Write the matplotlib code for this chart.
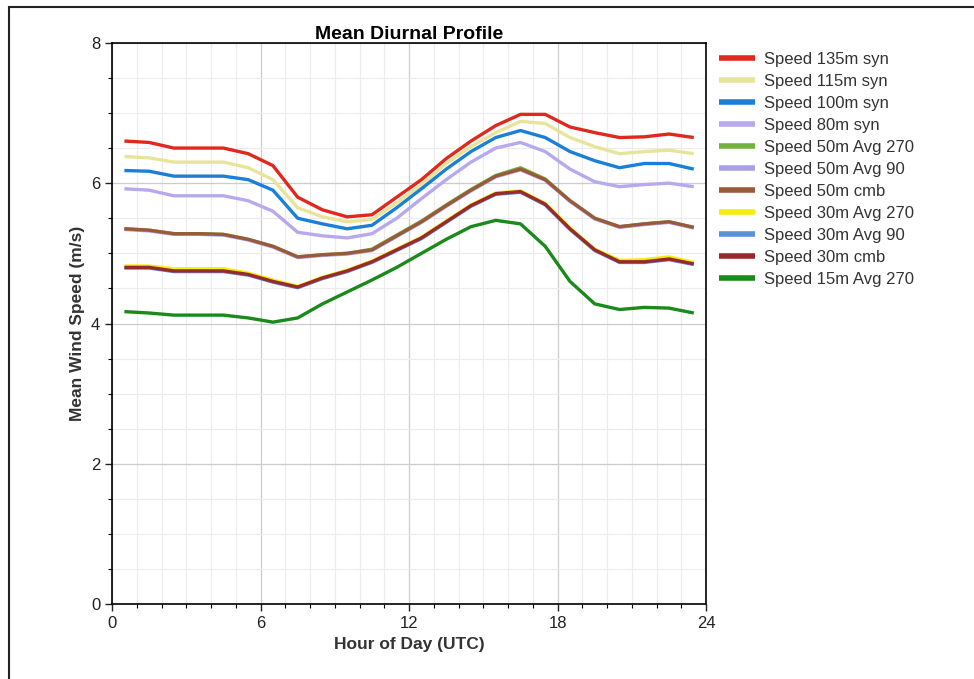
import matplotlib.pyplot as plt
from matplotlib.patches import Rectangle
from matplotlib.ticker import MultipleLocator

plt.rcParams['font.family'] = ['Liberation Sans', 'DejaVu Sans']

hours = [0.5, 1.5, 2.5, 3.5, 4.5, 5.5, 6.5, 7.5, 8.5, 9.5, 10.5, 11.5,
         12.5, 13.5, 14.5, 15.5, 16.5, 17.5, 18.5, 19.5, 20.5, 21.5, 22.5, 23.5]

speed_135_syn = [6.60, 6.58, 6.50, 6.50, 6.50, 6.42, 6.25, 5.80, 5.62, 5.52, 5.55, 5.80,
                 6.05, 6.35, 6.60, 6.82, 6.98, 6.98, 6.80, 6.72, 6.65, 6.66, 6.70, 6.65]
speed_115_syn = [6.38, 6.36, 6.30, 6.30, 6.30, 6.22, 6.05, 5.65, 5.52, 5.45, 5.48, 5.72,
                 5.98, 6.28, 6.52, 6.72, 6.88, 6.85, 6.65, 6.52, 6.42, 6.45, 6.47, 6.42]
speed_100_syn = [6.18, 6.17, 6.10, 6.10, 6.10, 6.05, 5.90, 5.50, 5.42, 5.35, 5.40, 5.65,
                 5.92, 6.20, 6.45, 6.65, 6.75, 6.65, 6.45, 6.32, 6.22, 6.28, 6.28, 6.20]
speed_80_syn = [5.92, 5.90, 5.82, 5.82, 5.82, 5.75, 5.60, 5.30, 5.25, 5.22, 5.28, 5.50,
                5.78, 6.05, 6.30, 6.50, 6.58, 6.45, 6.20, 6.02, 5.95, 5.98, 6.00, 5.95]
speed_50_avg270 = [5.35, 5.33, 5.28, 5.28, 5.27, 5.20, 5.10, 4.95, 4.98, 5.00, 5.06, 5.26,
                   5.46, 5.69, 5.91, 6.11, 6.22, 6.06, 5.75, 5.50, 5.38, 5.42, 5.45, 5.37]
speed_50_avg90 = [5.34, 5.32, 5.27, 5.27, 5.26, 5.19, 5.09, 4.94, 4.97, 4.99, 5.04, 5.24,
                  5.44, 5.67, 5.89, 6.09, 6.19, 6.04, 5.74, 5.49, 5.37, 5.41, 5.44, 5.36]
speed_50_cmb = [5.35, 5.33, 5.28, 5.28, 5.27, 5.20, 5.10, 4.95, 4.98, 5.00, 5.05, 5.25,
                5.45, 5.68, 5.90, 6.10, 6.20, 6.05, 5.75, 5.50, 5.38, 5.42, 5.45, 5.37]
speed_30_avg270 = [4.82, 4.82, 4.78, 4.78, 4.78, 4.72, 4.62, 4.53, 4.66, 4.76, 4.89, 5.06,
                   5.23, 5.46, 5.69, 5.86, 5.89, 5.71, 5.36, 5.06, 4.90, 4.91, 4.95, 4.87]
speed_30_avg90 = [4.79, 4.79, 4.74, 4.74, 4.74, 4.69, 4.59, 4.51, 4.64, 4.74, 4.87, 5.04,
                  5.21, 5.44, 5.67, 5.84, 5.87, 5.69, 5.34, 5.04, 4.87, 4.87, 4.91, 4.84]
speed_30_cmb = [4.80, 4.80, 4.75, 4.75, 4.75, 4.70, 4.60, 4.52, 4.65, 4.75, 4.88, 5.05,
                5.22, 5.45, 5.68, 5.85, 5.88, 5.70, 5.35, 5.05, 4.88, 4.88, 4.92, 4.85]
speed_15_avg270 = [4.17, 4.15, 4.12, 4.12, 4.12, 4.08, 4.02, 4.08, 4.28, 4.45, 4.62, 4.80,
                   5.00, 5.20, 5.38, 5.47, 5.42, 5.10, 4.60, 4.28, 4.20, 4.23, 4.22, 4.15]

series = [
    ("Speed 135m syn", speed_135_syn, "#e0281e"),
    ("Speed 115m syn", speed_115_syn, "#e8e49a"),
    ("Speed 100m syn", speed_100_syn, "#1a7fd8"),
    ("Speed 80m syn", speed_80_syn, "#b8a8ee"),
    ("Speed 50m Avg 270", speed_50_avg270, "#72b33a"),
    ("Speed 50m Avg 90", speed_50_avg90, "#aaa0e8"),
    ("Speed 50m cmb", speed_50_cmb, "#9a5a3a"),
    ("Speed 30m Avg 270", speed_30_avg270, "#f4ee10"),
    ("Speed 30m Avg 90", speed_30_avg90, "#5a8ede"),
    ("Speed 30m cmb", speed_30_cmb, "#9a2a2a"),
    ("Speed 15m Avg 270", speed_15_avg270, "#1a8a1a"),
]

fig = plt.figure(figsize=(9.74, 6.79), dpi=100)
ax = fig.add_axes([0.115, 0.110, 0.610, 0.827])

for label, vals, color in series:
    ax.plot(hours, vals, color=color, lw=2.4, label=label, solid_capstyle='butt')

ax.set_xlim(0, 24)
ax.set_ylim(0, 8)
ax.xaxis.set_major_locator(MultipleLocator(6))
ax.xaxis.set_minor_locator(MultipleLocator(1))
ax.yaxis.set_major_locator(MultipleLocator(2))
ax.yaxis.set_minor_locator(MultipleLocator(0.5))
ax.grid(which='major', color='#cccccc', lw=0.9)
ax.grid(which='minor', color='#ececec', lw=0.8)
ax.set_axisbelow(True)
ax.tick_params(which='major', length=5, width=1, labelsize=12, colors='#222222')
ax.tick_params(which='minor', length=3, width=0.8)
for s in ax.spines.values():
    s.set_linewidth(1.2)

ax.set_title("Mean Diurnal Profile", fontsize=14, fontweight='bold', pad=3)
ax.set_xlabel("Hour of Day (UTC)", fontsize=12.5, fontweight='bold', color='#333333')
ax.set_ylabel("Mean Wind Speed (m/s)", fontsize=12.5, fontweight='bold', color='#333333')

leg = ax.legend(loc='upper left', bbox_to_anchor=(1.01, 0.995), frameon=False,
                fontsize=12, handlelength=2.2, handletextpad=0.5,
                labelspacing=0.42, borderaxespad=0)
for h in leg.get_lines():
    h.set_linewidth(4)
for t in leg.get_texts():
    t.set_color('#333333')

# outer frame round the whole chart
fig.patches.append(Rectangle((9 / 974, -0.1), 1.2, 1 - 7 / 679 + 0.1,
                             transform=fig.transFigure, fill=False,
                             edgecolor='#222222', lw=1.5))

fig.savefig("out.png", dpi=100)
